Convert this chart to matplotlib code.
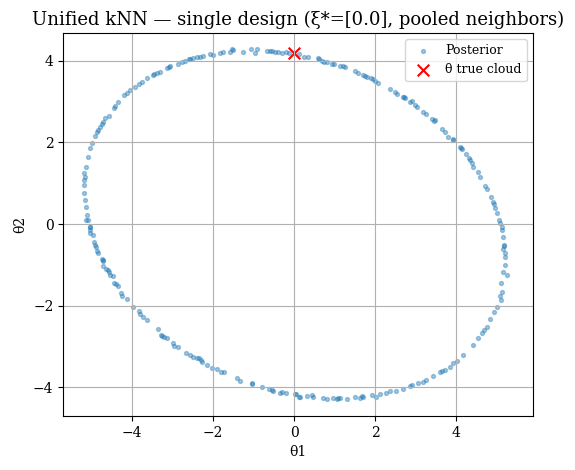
import numpy as np
import matplotlib
matplotlib.use("Agg")
import matplotlib.pyplot as plt

plt.rcParams['font.family'] = ['DejaVu Serif']

# posterior samples, read off the picture quadrant by quadrant
# upper left arc (top -> left side)
ul_t1 = [-0.12, -0.30, -0.39, -0.47, -0.59, -0.67, -0.92, -0.96, -1.06, -1.25,
         -1.54, -1.58, -1.75, -1.83, -2.07, -2.24, -2.32, -2.40, -2.49, -2.57,
         -2.69, -2.77, -2.86, -3.06, -3.14, -3.31, -3.39, -3.49, -3.64, -3.76,
         -3.84, -3.93, -4.05, -4.13, -4.21, -4.34, -4.42, -4.58, -4.67, -4.71,
         -4.79, -4.83, -4.87, -4.91, -5.00, -5.04, -5.08, -5.14, -5.18, -5.18,
         -5.18, -5.18, -5.16, -5.14, -5.12, -5.08, -5.04,
         -0.20, -0.55, -1.50, -2.00, -2.60, -3.10, -3.45, -4.45, -4.75, -5.17]
ul_t2 = [4.19, 4.19, 4.22, 4.22, 4.24, 4.24, 4.28, 4.19, 4.28, 4.22,
         4.28, 4.22, 4.22, 4.19, 4.16, 4.11, 4.10, 4.08, 4.06, 4.04,
         4.00, 3.97, 3.93, 3.87, 3.81, 3.73, 3.70, 3.65, 3.57, 3.48,
         3.44, 3.36, 3.28, 3.20, 3.17, 2.99, 2.89, 2.64, 2.59, 2.50,
         2.38, 2.30, 2.26, 2.15, 1.98, 1.85, 1.65, 1.40, 1.24, 1.08,
         0.95, 0.75, 0.59, 0.42, 0.22, 0.10, -0.07,
         4.21, 4.23, 4.25, 4.15, 4.03, 3.85, 3.68, 2.85, 2.44, 1.15]

# upper right arc (top -> right side)
ur_t1 = [0.13, 0.25, 0.35, 0.58, 0.68, 0.74, 0.81, 0.93, 0.99, 1.14,
         1.26, 1.51, 1.59, 1.71, 1.81, 1.89, 2.00, 2.08, 2.37, 2.49,
         2.55, 2.70, 2.74, 2.86, 2.90, 2.99, 3.03, 3.19, 3.26, 3.40,
         3.48, 3.65, 3.73, 3.79, 3.93, 4.10, 4.14, 4.25, 4.31, 4.39,
         4.43, 4.53, 4.59, 4.72, 4.77, 4.86, 4.91, 4.96, 5.02, 5.07,
         5.13,
         0.62, 1.20, 1.75, 1.95, 2.72, 3.45, 3.92, 4.12, 4.35, 4.94]
ur_t2 = [4.16, 4.10, 4.10, 4.06, 4.00, 3.97, 3.96, 3.93, 3.93, 3.87,
         3.84, 3.75, 3.70, 3.65, 3.61, 3.57, 3.51, 3.46, 3.30, 3.24,
         3.18, 3.12, 3.08, 2.99, 3.02, 2.91, 2.87, 2.75, 2.70, 2.56,
         2.55, 2.32, 2.26, 2.14, 2.06, 1.88, 1.84, 1.71, 1.61, 1.50,
         1.40, 1.28, 1.16, 0.93, 0.85, 0.67, 0.55, 0.38, 0.26, 0.10,
         -0.07,
         4.04, 3.86, 3.63, 3.54, 3.10, 2.53, 2.08, 1.86, 1.56, 0.50]

# lower left arc (left side -> bottom)
ll_t1 = [-5.14, -5.05, -5.03, -5.05, -4.96, -4.94, -4.92, -4.88, -4.86, -4.83,
         -4.75, -4.71, -4.71, -4.64, -4.58, -4.54, -4.48, -4.44, -4.39, -4.34,
         -4.27, -4.24, -4.13, -3.98, -3.84, -3.80, -3.74, -3.62, -3.37, -3.29,
         -3.22, -3.14, -2.98, -2.96, -2.86, -2.67, -2.57, -2.49, -2.36, -2.28,
         -2.16, -2.03, -1.91, -1.81, -1.74, -1.40, -1.33, -1.04, -0.80, -0.61,
         -0.51, -0.35, -0.19, 0.05, 0.13,
         -4.73, -4.60, -3.25, -2.40, -2.30, -1.05, -0.55, -0.30]
ll_t2 = [0.10, -0.07, -0.15, -0.21, -0.27, -0.43, -0.51, -0.56, -0.65, -0.70,
         -0.86, -0.90, -1.03, -1.11, -1.17, -1.25, -1.27, -1.44, -1.47, -1.53,
         -1.68, -1.76, -1.84, -2.04, -2.12, -2.20, -2.27, -2.35, -2.58, -2.72,
         -2.77, -2.80, -2.92, -2.99, -3.00, -3.17, -3.21, -3.25, -3.29, -3.37,
         -3.45, -3.53, -3.55, -3.62, -3.63, -3.78, -3.84, -3.92, -4.00, -4.05,
         -4.08, -4.13, -4.14, -4.16, -4.23,
         -0.88, -1.13, -2.75, -3.27, -3.33, -3.90, -4.06, -4.11]

# lower right arc (bottom -> right side)
lr_t1 = [0.02, 0.15, 0.31, 0.44, 0.46, 0.72, 0.81, 0.97, 1.05, 1.14,
         1.30, 1.51, 1.63, 1.71, 1.92, 2.02, 2.12, 2.27, 2.37, 2.52,
         2.70, 2.86, 3.07, 3.19, 3.26, 3.42, 3.60, 3.73, 3.85, 3.93,
         4.02, 4.18, 4.43, 4.53, 4.63, 4.76, 4.84, 4.94, 5.00, 5.09,
         5.13, 5.10, 5.17, 5.25, 5.21, 5.21, 5.17, 5.19, 5.15, 5.13,
         5.09,
         1.08, 1.68, 2.90, 3.65, 4.70, 5.11, 5.20, 5.18]
lr_t2 = [-4.16, -4.24, -4.21, -4.19, -4.24, -4.27, -4.29, -4.27, -4.28, -4.27,
         -4.28, -4.24, -4.27, -4.23, -4.19, -4.23, -4.16, -4.13, -4.10, -4.10,
         -4.04, -3.96, -3.90, -3.86, -3.82, -3.72, -3.62, -3.57, -3.49, -3.41,
         -3.35, -3.21, -2.96, -2.80, -2.68, -2.51, -2.33, -2.15, -2.02, -1.76,
         -1.66, -1.45, -1.17, -1.25, -1.00, -0.72, -0.60, -0.51, -0.31, -0.15,
         0.02,
         -4.25, -4.22, -3.95, -3.60, -2.60, -1.85, -0.80, -0.55]

theta_true = [0.0, 4.2]

theta1 = np.array(ul_t1 + ur_t1 + ll_t1 + lr_t1)
theta2 = np.array(ul_t2 + ur_t2 + ll_t2 + lr_t2)

fig = plt.figure(figsize=(5.75, 4.7), dpi=100)
ax = fig.add_axes([0.11, 0.115, 0.817, 0.815])

ax.scatter(theta1, theta2, s=8, alpha=0.4, color='C0', label='Posterior')
ax.scatter([theta_true[0]], [theta_true[1]], marker='x', s=70, color='red',
           linewidths=1.5, label='\u03b8 true cloud')

ax.set_xlim(-5.70, 5.90)
ax.set_ylim(-4.70, 4.68)
ax.set_xticks([-4, -2, 0, 2, 4])
ax.set_yticks([-4, -2, 0, 2, 4])
ax.grid(True)
ax.set_xlabel('\u03b81')
ax.set_ylabel('\u03b82')
ax.set_title('Unified kNN \u2014 single design (\u03be*=[0.0], pooled neighbors)',
             fontsize=13)
ax.legend(loc='upper right', fontsize=9)

fig.savefig('out.png', dpi=100)
